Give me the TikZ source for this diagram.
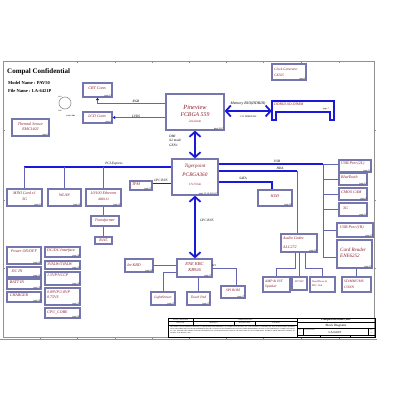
\documentclass[tikz,border=0pt]{standalone}
\usepackage{fontspec}
\setmainfont{Liberation Serif}
\usetikzlibrary{fit,arrows.meta}
\definecolor{boxc}{RGB}{118,118,175}
\definecolor{txtc}{RGB}{140,30,45}
\definecolor{busc}{RGB}{25,25,215}
\definecolor{linec}{RGB}{100,100,178}
\definecolor{framec}{RGB}{145,145,145}
\tikzset{
 blk/.style={draw=boxc, line width=1.2pt, inner sep=0pt},
 tx/.style={text=txtc, font=\itshape\fontsize{4}{5}\selectfont, inner sep=0pt},
 pg/.style={font=\fontsize{2.3}{3}\selectfont, anchor=south east, inner sep=0.8pt},
 lb/.style={font=\itshape\fontsize{3.4}{4}\selectfont, inner sep=0pt},
 tb/.style={font=\fontsize{1.7}{2}\selectfont, inner sep=0pt},
 bus/.style={draw=busc, line width=1.8pt},
 thinl/.style={draw=linec, line width=0.8pt},
 dbl/.style={draw=busc, line width=1.8pt, {Straight Barb[length=5pt,width=11pt]}-{Straight Barb[length=5pt,width=11pt]}},
 sarr/.style={{Triangle[length=2.5pt,width=3pt,color=busc]}-},
}
\newcommand\mkbox[3]{\node[blk, fit={#2 #3}] (#1) {};}
\newcommand\pgl[2]{\node[pg] (#1-p) at (#1.south east) {page #2};}
\newcommand\lbl[4][]{\node[tx,#1] (#2) at (#3) {#4};}
\begin{document}
\begin{tikzpicture}[x=1pt,y=-1pt]
\useasboundingbox (0,0) rectangle (400,400);
\fill[white] (0,0) rectangle (400,400);
% frame
\draw[framec, line width=0.8pt] (3,61) rectangle (374,337.5);
\draw[framec, line width=0.5pt] (0,339.5) -- (377,339.5);
\foreach \x in {77,115,152,189,226,263,301,339} {\draw[framec,line width=0.4pt] (\x,61) -- (\x,63);}
\foreach \x in {40,77,115,152,189,226,263,301,339} {\draw[framec,line width=0.4pt] (\x,337.5) -- (\x,339.5);}
\foreach \y in {130,200,268} {\draw[framec,line width=0.4pt] (3,\y) -- (5,\y); \draw[framec,line width=0.4pt] (374,\y) -- (376,\y);}
% headings
\node[font=\bfseries\fontsize{7}{8}\selectfont, anchor=west, inner sep=0pt] (title) at (7,72) {Compal Confidential};
\node[font=\bfseries\fontsize{4.5}{5}\selectfont, anchor=west, inner sep=0pt] (model) at (8,83) {Model Name : PAV50};
\node[font=\bfseries\fontsize{4.5}{5}\selectfont, anchor=west, inner sep=0pt] (file) at (8,91) {File Name : LA-6421P};
% fan symbol
\node[draw=framec, circle, minimum size=12pt, inner sep=0pt, line width=0.6pt] (fan) at (65,103) {};
\node[tb] (fan-a) at (60,96.5) {FAN};
\node[tb] (fan-b) at (60,111) {GND};
\node[tb, font=\bfseries\fontsize{1.7}{2}\selectfont] (fan-c) at (71,116) {FAN CTRL};
% boxes top
\mkbox{crt}{(83,83)}{(112,97)} \pgl{crt}{13}
\lbl{crt-t}{97.5,88.5}{CRT Conn.}
\mkbox{lcd}{(83,112)}{(112,123)} \pgl{lcd}{4}
\lbl{lcd-t}{97.5,116.5}{LCD Conn.}
\mkbox{therm}{(12,119)}{(49,136)} \pgl{therm}{5}
\lbl{therm-t}{30.5,124}{Thermal Sensor}
\lbl{therm-u}{30.5,129.5}{EMC1402}
\mkbox{pine}{(166,94)}{(224,130)} \pgl{pine}{5,6,7}
\lbl[font=\itshape\fontsize{6.3}{7}\selectfont]{pine-t}{195,107}{Pineview}
\lbl[font=\itshape\fontsize{5.8}{7}\selectfont]{pine-u}{195,115}{FCBGA 559}
\lbl[font=\itshape\fontsize{3.2}{4}\selectfont]{pine-v}{195,121}{22x22mm}
\mkbox{clk}{(272,64)}{(306,80)} \pgl{clk}{6}
\lbl[anchor=west,font=\itshape\fontsize{3.5}{4}\selectfont]{clk-t}{274,69}{Clock Generator}
\lbl[anchor=west,font=\itshape\fontsize{3.5}{4}\selectfont]{clk-u}{274,75}{CK505}
% DIMM
\node[inner sep=0pt, fit={(272,101) (334,120)}] (ddr) {};
\draw[busc, line width=1.3pt] (272,120) -- (272,101) -- (334,101) -- (334,120) -- (330,120) -- (330,112) -- (276,112) -- (276,120) -- cycle;
\lbl[anchor=west,font=\itshape\fontsize{3.8}{4}\selectfont]{ddr-t}{274,104.5}{DDRIII-SO-DIMM}
\node[pg, anchor=east] (ddr-p) at (330,109) {page 7};
% Tigerpoint
\mkbox{tiger}{(172,159)}{(218,195)}
\node[pg] (tiger-p) at (tiger.south east) {page 13,14,15,16,17};
\lbl[font=\itshape\fontsize{5}{6}\selectfont]{tiger-t}{195,166}{Tigerpoint}
\lbl[font=\itshape\fontsize{5.3}{6}\selectfont]{tiger-u}{195,175}{PCBGA360}
\lbl[font=\itshape\fontsize{3.2}{4}\selectfont]{tiger-v}{195,184}{17x17mm}
% PCIe devices
\mkbox{mini}{(7,189)}{(42,206)} \pgl{mini}{13}
\lbl{mini-t}{24.5,193.5}{MINI Card x1}
\lbl{mini-u}{24.5,199}{3G}
\mkbox{wlan}{(48,189)}{(81,206)} \pgl{wlan}{22}
\lbl{wlan-t}{64.5,195.5}{WLAN}
\mkbox{eth}{(86,189)}{(121,206)} \pgl{eth}{22}
\lbl{eth-t}{103.5,193.5}{10/100 Ethernet}
\lbl[font=\itshape\fontsize{3.4}{4}\selectfont]{eth-u}{103.5,199}{AR8132}
\mkbox{trans}{(91,216)}{(119,226)}
\lbl{trans-t}{105,221}{Transformer}
\mkbox{rj}{(95,237)}{(112,244)}
\lbl{rj-t}{103.5,240.5}{RJ45}
\mkbox{tpm}{(130,181)}{(152,190)} \pgl{tpm}{27}
\lbl{tpm-t}{136,184.3}{TPM}
\mkbox{hdd}{(258,190)}{(292,206)} \pgl{hdd}{18}
\lbl{hdd-t}{275,196.5}{HDD}
% USB devices
\mkbox{usb2l}{(339,160)}{(371,172)} \pgl{usb2l}{19}
\lbl[anchor=west]{usb2l-t}{341,164}{USB Port (2L)}
\mkbox{bt}{(339,173)}{(367,185)} \pgl{bt}{13}
\lbl[anchor=west]{bt-t}{341,177.5}{BlueTooth}
\mkbox{cam}{(339,188)}{(367,200)} \pgl{cam}{4}
\lbl[anchor=west]{cam-t}{341,192.5}{CMOS CAM}
\mkbox{gthree}{(339,203)}{(367,216)} \pgl{gthree}{13}
\lbl[anchor=west]{gthree-t}{343,208.5}{3G}
\mkbox{usb1r}{(337,223)}{(373,237)} \pgl{usb1r}{19}
\lbl[anchor=west]{usb1r-t}{340,227.5}{USB Port (1R)}
\mkbox{card}{(337,240)}{(372,268)} \pgl{card}{19}
\lbl[anchor=west,font=\itshape\fontsize{5}{6}\selectfont]{card-t}{340,249.5}{Card Reader}
\lbl[anchor=west,font=\itshape\fontsize{5}{6}\selectfont]{card-u}{340,256}{ENE6252}
\mkbox{sd}{(342,277)}{(371,292)}
\lbl[anchor=west,font=\itshape\fontsize{3.6}{4}\selectfont]{sd-t}{344,281.5}{SD/MMC/MS}
\lbl[anchor=west,font=\itshape\fontsize{3.6}{4}\selectfont]{sd-u}{344,287}{CONN}
% audio
\mkbox{codec}{(281,234)}{(317,252)} \pgl{codec}{18}
\lbl[anchor=west]{codec-t}{283,238.5}{Audio Codec}
\lbl[anchor=west]{codec-u}{283,247.5}{ALC272}
\mkbox{amp}{(263,277)}{(290,292)}
\lbl[anchor=west,font=\itshape\fontsize{3.6}{4}\selectfont]{amp-t}{265,281.5}{AMP \& INT}
\lbl[anchor=west,font=\itshape\fontsize{3.6}{4}\selectfont]{amp-u}{265,287}{Speaker}
\mkbox{mic}{(292,277)}{(307,290)}
\lbl[font=\itshape\fontsize{2.6}{3}\selectfont]{mic-t}{299.5,281.5}{INT MIC}
\mkbox{hp}{(310,277)}{(335,292)}
\lbl[anchor=west,font=\itshape\fontsize{2.6}{3}\selectfont]{hp-t}{312,281.5}{HeadPhone \&}
\lbl[anchor=west,font=\itshape\fontsize{2.6}{3}\selectfont]{hp-u}{312,286}{MIC Jack}
% KBC
\mkbox{kbc}{(177,259)}{(212,277)} \pgl{kbc}{27}
\lbl[font=\itshape\fontsize{4.5}{5}\selectfont]{kbc-t}{194.5,264.5}{ENE KBC}
\lbl[font=\itshape\fontsize{4.5}{5}\selectfont]{kbc-u}{194.5,270.5}{KB926}
\mkbox{kbd}{(125,259)}{(153,272)} \pgl{kbd}{28}
\lbl{kbd-t}{134,265}{Int KBD}
\mkbox{light}{(151,292)}{(175,305)} \pgl{light}{27}
\lbl[font=\itshape\fontsize{3.6}{4}\selectfont]{light-t}{163,297.5}{LightSensor}
\mkbox{tp}{(187,292)}{(210,305)} \pgl{tp}{27}
\lbl[font=\itshape\fontsize{3.6}{4}\selectfont]{tp-t}{198.5,297.5}{Touch Pad}
\mkbox{spi}{(221,286)}{(245,298)} \pgl{spi}{27}
\lbl[font=\itshape\fontsize{3.6}{4}\selectfont]{spi-t}{233,290.5}{SPI ROM}
% power
\mkbox{pwr}{(7,247)}{(41,264)} \pgl{pwr}{29}
\lbl{pwr-t}{24,251.5}{Power ON/OFF}
\mkbox{dcdc}{(45,247)}{(80,257)} \pgl{dcdc}{38}
\lbl[anchor=west]{dcdc-t}{47,251}{DC/DC Interface}
\mkbox{dcin}{(7,267)}{(41,277)} \pgl{dcin}{34}
\lbl{dcin-t}{17,271}{DC IN}
\mkbox{alw}{(45,261)}{(80,269)} \pgl{alw}{33}
\lbl[anchor=west]{alw-t}{47,264}{3VALW/5VALW}
\mkbox{batt}{(7,279)}{(41,289)} \pgl{batt}{35}
\lbl{batt-t}{17,282.5}{BATT IN}
\mkbox{vccp}{(45,272)}{(80,285)} \pgl{vccp}{34}
\lbl[anchor=west]{vccp-t}{47,275.5}{1.5VP/VCCP}
\mkbox{chg}{(7,292)}{(41,302)} \pgl{chg}{36}
\lbl{chg-t}{19,295.5}{CHARGER}
\mkbox{vs}{(45,288)}{(80,305)} \pgl{vs}{35}
\lbl[anchor=west]{vs-t}{47,292}{0.89VP/1.8VP}
\lbl[anchor=west]{vs-u}{47,297.5}{0.75VS}
\mkbox{core}{(45,308)}{(80,318)} \pgl{core}{36}
\lbl[anchor=west]{core-t}{47,312}{CPU\_CORE}
% helper coordinates
\coordinate (yrgb) at (0,103);
\coordinate (ymem) at (0,111);
\coordinate (ypci) at (0,167);
\coordinate (ylpc) at (0,183.5);
\coordinate (yusb) at (0,164);
\coordinate (yhda) at (0,171);
\coordinate (ysata) at (0,182);
\coordinate (xusb) at (323,0);
\coordinate (xhda) at (297,0);
\coordinate (xsata) at (272,0);
\coordinate (ycard) at (0,257);
\coordinate (ylight) at (0,272);
\coordinate (yspi) at (0,268);
\coordinate (yaud) at (0,268);
\coordinate (xa) at (295,0);
\coordinate (xc) at (305,0);
% connectors
\draw[thinl, sarr] (crt.south) |- (pine.west |- yrgb);
\draw[thinl, sarr] (lcd.east) -- (pine.west |- lcd.east);
\draw[dbl] (pine.east |- ymem) -- (ddr.west |- ymem);
\draw[dbl] (pine.south) -- (pine.south |- tiger.north);
\draw[bus] ([xshift=-0.9pt]mini.north |- ypci) -- (tiger.west |- ypci);
\draw[thinl] (mini.north) -- (mini.north |- ypci);
\draw[thinl] (wlan.north) -- (wlan.north |- ypci);
\draw[thinl] (eth.north) -- (eth.north |- ypci);
\draw[thinl] (eth.south) -- (eth.south |- trans.north);
\draw[thinl] (eth.south |- trans.south) -- (eth.south |- rj.north);
\draw[busc, line width=1.2pt] (tpm.east |- ylpc) -- (tiger.west |- ylpc);
\draw[bus] (tiger.east |- yusb) -- (xusb |- yusb);
\draw[thinl] (xusb |- yusb) -- (usb2l.west |- yusb);
\draw[thinl] (xusb |- yusb) -- (xusb |- ycard) -- (card.west |- ycard);
\draw[thinl] (xusb |- bt.west) -- (bt.west);
\draw[thinl] (xusb |- cam.west) -- (cam.west);
\draw[thinl] (xusb |- gthree.west) -- (gthree.west);
\draw[thinl] (xusb |- usb1r.west) -- (usb1r.west);
\draw[bus] (tiger.east |- yhda) -- (xhda |- yhda);
\draw[thinl] (xhda |- yhda) -- (xhda |- codec.north);
\draw[bus] (tiger.east |- ysata) -| (xsata |- hdd.north);
\draw[dbl] (tiger.south) -- (tiger.south |- kbc.north);
\draw[thinl] (kbd.east) -- (kbc.west |- kbd.east);
\draw[thinl] (kbc.west |- ylight) -| (light.north);
\draw[thinl] (tp.north) -- (tp.north |- kbc.south);
\draw[thinl] (kbc.east |- yspi) -| ([xshift=3pt]spi.north);
\draw[thinl] (sd.north) -- (sd.north |- card.south);
\draw[thinl] (xa |- codec.south) -- (xa |- yaud) -| (amp.north);
\draw[thinl] (mic.north) -- (mic.north |- codec.south);
\draw[thinl] (xc |- codec.south) -- (xc |- yaud) -| (hp.north);
% bus labels
\node[lb] (l-rgb) at (136,101) {RGB};
\node[lb] (l-lvds) at (136,116) {LVDS};
\node[lb, font=\itshape\fontsize{3.8}{4}\selectfont] (l-mem) at (248,103.5) {Memory BUS(DDRIII)};
\node[lb, font=\itshape\fontsize{2.4}{3}\selectfont] (l-mem2) at (248,116.5) {1.5V DDRIII 800};
\node[lb, anchor=west] (l-dmi) at (169,136) {DMI};
\node[lb, anchor=west] (l-dmi2) at (169,140.5) {X2 mode};
\node[lb, anchor=west] (l-dmi3) at (169,145) {GEN1};
\node[lb] (l-pci) at (114,163.5) {PCI-Express};
\node[lb] (l-lpc) at (161,180.5) {LPC BUS};
\node[lb] (l-usb) at (277,161) {USB};
\node[lb] (l-hda) at (280,168) {HDA};
\node[lb] (l-sata) at (243,178.5) {SATA};
\node[lb] (l-lpc2) at (207,220) {LPC BUS};
\node[lb, font=\itshape\fontsize{2.6}{3}\selectfont] (l-spi) at (214,265.5) {SPI};
% title block
\node[draw=black, line width=0.4pt, inner sep=0pt, fit={(168,318) (297,337)}] (tbl) {};
\node[draw=black, line width=0.4pt, inner sep=0pt, fit={(297,318) (375,337)}] (tbr) {};
\draw[line width=0.3pt] (168,321.5) -- (297,321.5);
\draw[line width=0.3pt] (168,325) -- (297,325);
\draw[line width=0.3pt] (193,318) -- (193,325);
\draw[line width=0.3pt] (234,321.5) -- (234,325);
\draw[line width=0.3pt] (255,321.5) -- (255,325);
\node[tb] (tb1) at (180.5,319.8) {Security Classification};
\node[tb] (tb2) at (245,319.8) {Compal Secret Data};
\node[tb] (tb3) at (180.5,323.3) {Issued Date};
\node[tb] (tb4) at (213.5,323.3) {2009/08/03};
\node[tb] (tb5) at (244.5,323.3) {Deciphered Date};
\node[tb] (tb6) at (276,323.3) {2010/08/03};
\node[font=\fontsize{1.55}{2.25}\selectfont, text width=125pt, align=justify, inner sep=0pt, anchor=north west] (tbp) at (170,326) {THIS SHEET OF ENGINEERING DRAWING IS THE PROPRIETARY PROPERTY OF COMPAL ELECTRONICS, INC. AND CONTAINS CONFIDENTIAL AND TRADE SECRET INFORMATION. THIS SHEET MAY NOT BE TRANSFERED FROM THE CUSTODY OF THE COMPETENT DIVISION OF R\&D DEPARTMENT EXCEPT AS AUTHORIZED BY COMPAL ELECTRONICS, INC. NEITHER THIS SHEET NOR THE INFORMATION IT CONTAINS MAY BE USED BY OR DISCLOSED TO ANY THIRD PARTY WITHOUT PRIOR WRITTEN CONSENT OF COMPAL ELECTRONICS, INC.};
\draw[line width=0.3pt] (297,322) -- (375,322);
\draw[line width=0.3pt] (297,328.5) -- (375,328.5);
\draw[line width=0.3pt] (297,335) -- (375,335);
\draw[line width=0.3pt] (303,328.5) -- (303,335);
\draw[line width=0.3pt] (368,328.5) -- (368,335);
\draw[line width=0.3pt] (320,335) -- (320,337);
\draw[line width=0.3pt] (350,335) -- (350,337);
\node[font=\bfseries\fontsize{2.8}{3}\selectfont, inner sep=0pt] (tbr1) at (336,320) {Compal Electronics, Inc.};
\node[tb, anchor=west, font=\fontsize{1.3}{2}\selectfont] (tbr2) at (298.5,323.2) {Title};
\node[font=\fontsize{3.2}{4}\selectfont, inner sep=0pt] (tbr3) at (336,325.7) {Block Diagrams};
\node[tb, font=\fontsize{1.3}{2}\selectfont] (tbr4) at (300,330) {Size};
\node[tb, anchor=west, font=\fontsize{1.3}{2}\selectfont] (tbr5) at (304.5,329.7) {Document Number};
\node[font=\fontsize{3}{4}\selectfont, inner sep=0pt] (tbr6) at (335,332.5) {LA-6421P};
\node[tb, font=\fontsize{1.3}{2}\selectfont] (tbr7) at (371.5,330) {Rev};
\node[tb, font=\fontsize{1.3}{2}\selectfont] (tbr8) at (300,332.8) {C};
\node[tb, font=\fontsize{1.3}{2}\selectfont] (tbr9) at (371.5,332.8) {1.0};
\node[tb, anchor=west, font=\fontsize{1.3}{2}\selectfont] (tbr10) at (298.5,336) {Date:};
\node[tb, anchor=west, font=\fontsize{1.3}{2}\selectfont] (tbr11) at (351,336) {Sheet};
\end{tikzpicture}
\end{document}
